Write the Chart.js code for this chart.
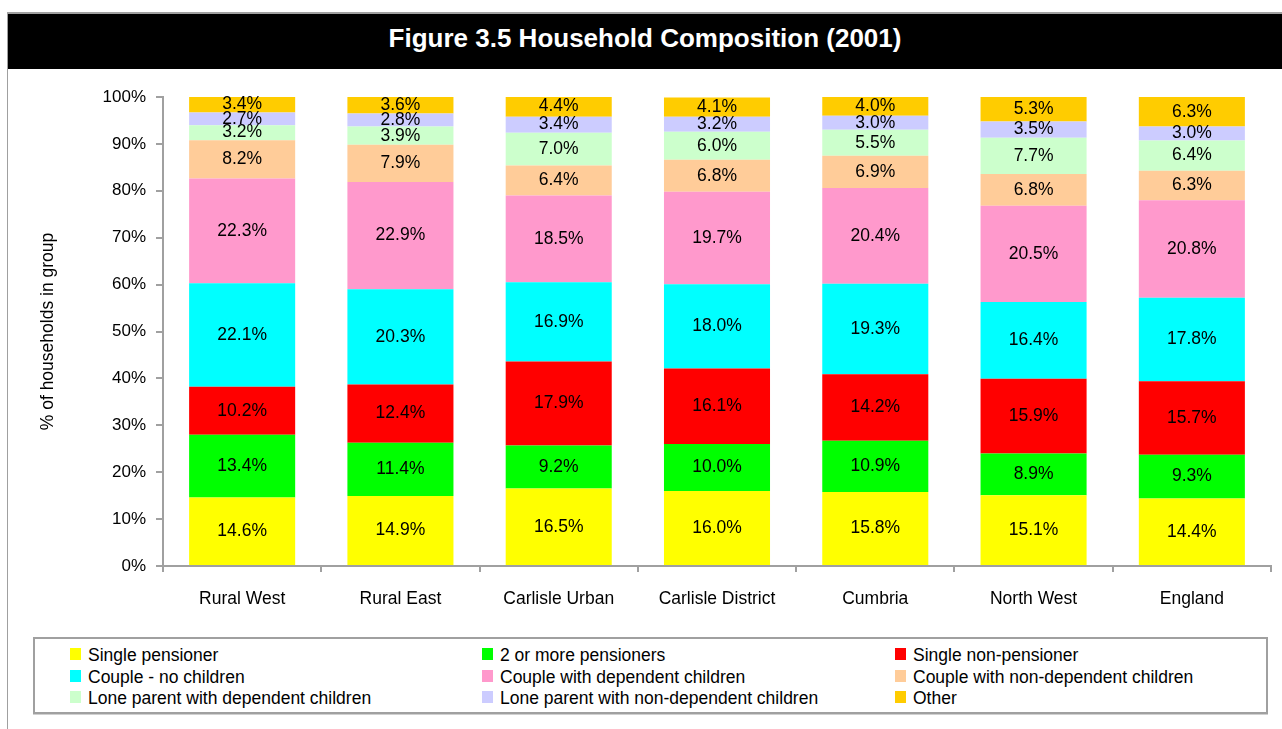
<!DOCTYPE html>
<html>
<head>
<meta charset="utf-8">
<script src="https://cdn.jsdelivr.net/npm/chart.js@4.4.1/dist/chart.umd.min.js"></script>
<style>
  html, body { margin: 0; padding: 0; background: #fff; }
  body { width: 1282px; height: 729px; position: relative; overflow: hidden;
         font-family: "Liberation Sans", Arial, sans-serif; }
  #frame { position: absolute; left: 7px; top: 12px; right: 0; bottom: 0;
           border-top: 2px solid #a0a0a0; border-left: 1px solid #a0a0a0; }
  #title { position: absolute; left: 8px; top: 14px; width: 1274px; height: 55px;
           background: #000; color: #fff; font-weight: bold; font-size: 26px;
           text-align: center; line-height: 48px; }
  #wrap { position: absolute; left: 8px; top: 70px; width: 1274px; height: 560px; }
  #legend { position: absolute; left: 33px; top: 637px; width: 1231px; height: 73px;
            border: 2px solid #a0a0a0; box-shadow: 0 1px 0 #d0d0d0; }
  .item { position: absolute; font-size: 17.5px; color: #000; white-space: nowrap; line-height: 20px; }
  .sw { position: absolute; width: 11px; height: 12px; }
</style>
</head>
<body>
<div id="frame"></div>
<div id="title">Figure 3.5 Household Composition (2001)</div>
<div id="wrap"><canvas id="c" width="1274" height="560"></canvas></div>
<div id="legend"></div>
<script>
const categories = ['Rural West', 'Rural East', 'Carlisle Urban', 'Carlisle District', 'Cumbria', 'North West', 'England'];

const singlePensioner      = [14.6, 14.9, 16.5, 16.0, 15.8, 15.1, 14.4];
const twoPlusPensioners    = [13.4, 11.4, 9.2, 10.0, 10.9, 8.9, 9.3];
const singleNonPensioner   = [10.2, 12.4, 17.9, 16.1, 14.2, 15.9, 15.7];
const coupleNoChildren     = [22.1, 20.3, 16.9, 18.0, 19.3, 16.4, 17.8];
const coupleDependent      = [22.3, 22.9, 18.5, 19.7, 20.4, 20.5, 20.8];
const coupleNonDependent   = [8.2, 7.9, 6.4, 6.8, 6.9, 6.8, 6.3];
const loneDependent        = [3.2, 3.9, 7.0, 6.0, 5.5, 7.7, 6.4];
const loneNonDependent     = [2.7, 2.8, 3.4, 3.2, 3.0, 3.5, 3.0];
const other                = [3.4, 3.6, 4.4, 4.1, 4.0, 5.3, 6.3];

const seriesNames = ['Single pensioner', '2 or more pensioners', 'Single non-pensioner',
  'Couple - no children', 'Couple with dependent children', 'Couple with non-dependent children',
  'Lone parent with dependent children', 'Lone parent with non-dependent children', 'Other'];
const seriesValues = [singlePensioner, twoPlusPensioners, singleNonPensioner, coupleNoChildren,
  coupleDependent, coupleNonDependent, loneDependent, loneNonDependent, other];
const seriesColors = ['#FFFF00', '#00FF00', '#FF0000', '#00FFFF', '#FF99CC', '#FFCC99',
  '#CCFFCC', '#CCCCFF', '#FFCC00'];

const yTicks = [0, 10, 20, 30, 40, 50, 60, 70, 80, 90, 100];

const FONT = '"Liberation Sans", Arial, sans-serif';
const AXIS = '#a0a0a0';

const segmentLabels = {
  id: 'segmentLabels',
  afterDatasetsDraw(chart) {
    const ctx = chart.ctx;
    ctx.save();
    ctx.font = '17.5px ' + FONT;
    ctx.fillStyle = '#000';
    ctx.textAlign = 'center';
    ctx.textBaseline = 'middle';
    chart.data.datasets.forEach((ds, i) => {
      const meta = chart.getDatasetMeta(i);
      meta.data.forEach((bar, j) => {
        const y = (bar.y + bar.base) / 2;
        ctx.fillText(ds.data[j].toFixed(1) + '%', bar.x, y);
      });
    });
    ctx.restore();
  }
};

new Chart(document.getElementById('c'), {
  type: 'bar',
  data: {
    labels: categories,
    datasets: seriesValues.map((vals, i) => ({
      label: seriesNames[i],
      data: vals,
      backgroundColor: seriesColors[i],
      borderWidth: 0,
      barPercentage: 0.67,
      categoryPercentage: 1.0
    }))
  },
  options: {
    responsive: false,
    animation: false,
    layout: { padding: { top: 27, right: 11, left: 0, bottom: 0 } },
    plugins: { legend: { display: false }, tooltip: { enabled: false }, title: { display: false } },
    scales: {
      x: {
        stacked: true,
        offset: true,
        grid: { display: true, drawOnChartArea: false, drawTicks: true, tickLength: 6, color: AXIS, lineWidth: 2, offset: true },
        border: { display: true, color: AXIS, width: 2 },
        ticks: { color: '#000', font: { family: FONT, size: 17.5 }, padding: 17, maxRotation: 0, autoSkip: false },
        afterFit(scale) { scale.height = 64; }
      },
      y: {
        stacked: true,
        min: 0,
        max: 100,
        afterBuildTicks(scale) { scale.ticks = yTicks.map(v => ({ value: v })); },
        grid: { display: true, drawOnChartArea: false, drawTicks: true, tickLength: 7, color: AXIS, lineWidth: 2 },
        border: { display: true, color: AXIS, width: 2 },
        ticks: { color: '#000', font: { family: FONT, size: 17 }, padding: 10, callback: v => v + '%' },
        title: { display: true, text: '% of households in group', color: '#000', font: { family: FONT, size: 17.5 }, padding: { top: 30, bottom: 0 } },
        afterFit(scale) { scale.width = 155; }
      }
    }
  },
  plugins: [segmentLabels]
});

const legend = document.getElementById('legend');
const colX = [35, 447, 860];
const rowY = [6, 28, 49];
seriesNames.forEach((name, i) => {
  const col = i % 3, row = Math.floor(i / 3);
  const sw = document.createElement('div');
  sw.className = 'sw';
  sw.style.left = colX[col] + 'px';
  sw.style.top = (rowY[row] + 3) + 'px';
  sw.style.background = seriesColors[i];
  legend.appendChild(sw);
  const t = document.createElement('div');
  t.className = 'item';
  t.style.left = (colX[col] + 18) + 'px';
  t.style.top = rowY[row] + 'px';
  t.textContent = name;
  legend.appendChild(t);
});
</script>
</body>
</html>
